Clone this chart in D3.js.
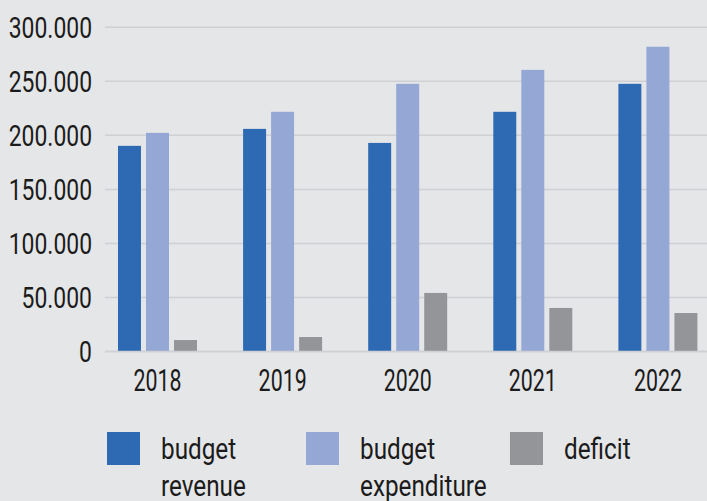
<!DOCTYPE html>
<html>
<head>
<meta charset="utf-8">
<script src="https://cdn.jsdelivr.net/npm/d3@7"></script>
<style>
  html, body { margin: 0; padding: 0; background: #e5e6e8; }
  svg { display: block; }
  text { font-family: Roboto, "Liberation Sans", sans-serif; fill: #1b1b1b; }
</style>
</head>
<body>
<svg id="chart" width="707" height="501"></svg>
<script>
// Budget figures by year
const years = ["2018", "2019", "2020", "2021", "2022"];
const revenue = [190300, 206000, 193000, 221800, 247700];
const expenditure = [202300, 221800, 247700, 260600, 282000];
const deficit = [10600, 13400, 54200, 40300, 35600];
const seriesKeys = ["revenue", "expenditure", "deficit"];
const seriesLabels = [["budget", "revenue"], ["budget", "expenditure"], ["deficit"]];
const seriesColors = ["#2d6ab3", "#94a7d5", "#939598"];
const yTicks = [0, 50000, 100000, 150000, 200000, 250000, 300000];

const seriesValues = { revenue, expenditure, deficit };

const svg = d3.select("#chart");
const W = 707;

const y = d3.scaleLinear().domain([0, 300000]).range([351.5, 27.3]);
const x0 = d3.scaleBand().domain(years).range([95, 720.5]).padding(0);
const x1 = d3.scaleBand().domain(seriesKeys).range([23, 102]).paddingInner(0.18).paddingOuter(0);
const color = d3.scaleOrdinal().domain(seriesKeys).range(seriesColors);

const fmt = d3.formatLocale({ decimal: ",", thousands: ".", grouping: [3], currency: ["", ""] }).format(",");

// Horizontal grid
svg.append("g")
  .selectAll("line")
  .data(yTicks)
  .join("line")
  .attr("x1", 105).attr("x2", W)
  .attr("y1", d => y(d)).attr("y2", d => y(d))
  .attr("stroke", "#cfd0d3")
  .attr("stroke-width", 1.5);

// Y axis labels (condensed by a horizontal squeeze around the anchor)
const yAxis = d3.axisLeft(y).tickValues(yTicks).tickFormat(fmt).tickSize(0).tickPadding(0);
svg.append("g")
  .attr("transform", "translate(92,0)")
  .call(yAxis)
  .call(g => g.select(".domain").remove())
  .call(g => g.selectAll("text")
    .attr("font-size", 29)
    .attr("font-family", "Roboto, sans-serif")
    .attr("fill", "#1b1b1b")
    .attr("dy", "0.36em")
    .attr("transform", "scale(0.79,1)"));

// Bars
const groups = svg.append("g")
  .selectAll("g")
  .data(years)
  .join("g")
  .attr("transform", d => `translate(${x0(d)},0)`);

groups.selectAll("rect")
  .data((d, i) => seriesKeys.map(k => ({ key: k, value: seriesValues[k][i] })))
  .join("rect")
  .attr("x", d => x1(d.key))
  .attr("width", x1.bandwidth())
  .attr("y", d => y(d.value))
  .attr("height", d => y(0) - y(d.value))
  .attr("fill", d => color(d.key));

// Baseline
svg.append("line")
  .attr("x1", 105).attr("x2", W)
  .attr("y1", y(0)).attr("y2", y(0))
  .attr("stroke", "#cfd0d3")
  .attr("stroke-width", 1.5);

// X axis labels
const xAxis = d3.axisBottom(x0).tickSize(0).tickPadding(0);
svg.append("g")
  .attr("transform", "translate(0,369)")
  .call(xAxis)
  .call(g => g.select(".domain").remove())
  .call(g => g.selectAll("text")
    .attr("font-size", 31)
    .attr("font-family", "Roboto, sans-serif")
    .attr("fill", "#1b1b1b")
    .attr("dy", "0.71em")
    .attr("transform", "scale(0.69,1)"));

// Legend
const legendX = [107, 306, 510];
const legend = svg.append("g")
  .selectAll("g")
  .data(seriesKeys)
  .join("g")
  .attr("transform", (d, i) => `translate(${legendX[i]},432)`);

legend.append("rect")
  .attr("width", 33).attr("height", 33)
  .attr("fill", d => color(d));

legend.append("g")
  .attr("transform", "translate(54,0) scale(0.81,1)")
  .append("text")
  .attr("y", 27)
  .attr("font-size", 30)
  .selectAll("tspan")
  .data((d, i) => seriesLabels[i])
  .join("tspan")
  .attr("x", 0)
  .attr("dy", (d, i) => i === 0 ? 0 : 37)
  .text(d => d);
</script>
</body>
</html>
